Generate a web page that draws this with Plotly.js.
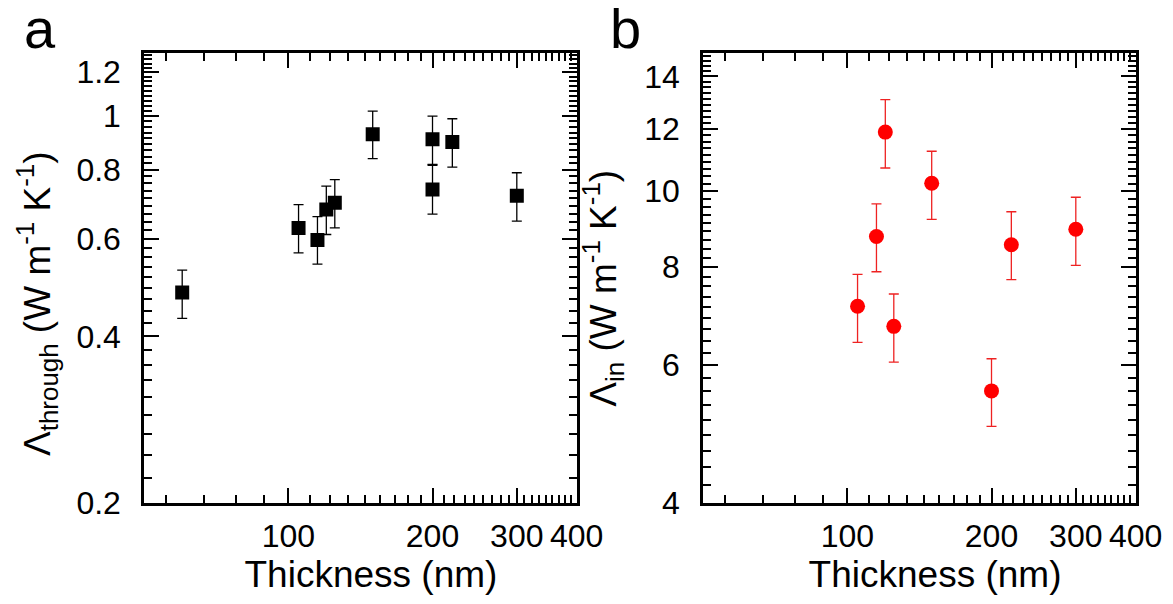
<!DOCTYPE html>
<html>
<head>
<meta charset="utf-8">
<script src="https://cdn.plot.ly/plotly-3.0.1.min.js"></script>
<style>html,body{margin:0;padding:0;background:#fff;}#chart{width:1173px;height:604px;}</style>
</head>
<body>
<div id="chart"></div>
<script>
// ---- data ----
var thicknessA = [60, 105, 115, 120, 125, 150, 200, 200, 220, 300];
var lambdaThrough = [0.480, 0.628, 0.597, 0.678, 0.697, 0.927, 0.908, 0.737, 0.898, 0.718];
var lambdaThroughErrPlus = [0.047, 0.064, 0.061, 0.069, 0.071, 0.094, 0.092, 0.078, 0.091, 0.072];
var lambdaThroughErrMinus = [0.049, 0.062, 0.057, 0.067, 0.069, 0.089, 0.090, 0.072, 0.089, 0.072];

var thicknessB = [105, 115, 120, 125, 150, 200, 220, 300];
var lambdaIn = [7.13, 8.75, 11.89, 6.72, 10.23, 5.56, 8.54, 8.94];
var lambdaInErrPlus = [0.70, 0.88, 1.19, 0.67, 1.01, 0.55, 0.87, 0.88];
var lambdaInErrMinus = [0.72, 0.86, 1.19, 0.67, 1.03, 0.55, 0.83, 0.90];

var xTickVals = [100, 200, 300, 400];
var xTickText = ['100', '200', '300', '400'];
var yTickValsA = [0.2, 0.4, 0.6, 0.8, 1, 1.2];
var yTickTextA = ['0.2', '0.4', '0.6', '0.8', '1', '1.2'];
var yTickValsB = [4, 6, 8, 10, 12, 14];
var yTickTextB = ['4', '6', '8', '10', '12', '14'];

// minor ticks: 9 subdivisions between labelled ticks
function minorTicks(start, step, count, lo, hi) {
  var out = [];
  for (var i = 0; i < count; i++) {
    var base = start + i * step;
    for (var k = 1; k <= 8; k++) {
      var v = base + k * step / 9;
      if (v > lo && v < hi) out.push(v);
    }
  }
  return out;
}
var xMinor = minorTicks(0, 100, 4, 50, 400);
var yMinorA = minorTicks(0.2, 0.2, 6, 0.2, 1.3);
var yMinorB = minorTicks(4, 2, 6, 4, 15);

var W = 1173, H = 604;
var FONT = 'Liberation Sans, Arial, Helvetica, sans-serif';
function pad(n) { var s = ''; for (var i = 0; i < n; i++) s += '&nbsp;'; return s; }

function xAxis(domain, anchor, lead) {
  return {
    type: 'log', domain: domain, anchor: anchor,
    range: [Math.log10(50), Math.log10(400) + 0.0008],
    tickmode: 'array', tickvals: xTickVals, ticktext: xTickText,
    ticks: 'inside', ticklen: 15, tickwidth: 2, tickcolor: '#000',
    showline: true, linewidth: 3, linecolor: '#000', mirror: 'allticks',
    showgrid: false, zeroline: false,
    ticklabelstandoff: 3,
    tickfont: {family: FONT, size: 32, color: '#000'},
    minor: {tickmode: 'array', tickvals: xMinor, ticks: 'inside', ticklen: 8, tickwidth: 2, tickcolor: '#000', showgrid: false},
    title: {text: pad(lead) + 'Thickness (nm)', font: {family: FONT, size: 37, color: '#000'}, standoff: 4}
  };
}
function yAxis(domain, anchor, range, vals, text, minor, title, standoff) {
  return {
    type: 'log', domain: domain, anchor: anchor,
    range: range,
    tickmode: 'array', tickvals: vals, ticktext: text,
    ticks: 'inside', ticklen: 15, tickwidth: 2, tickcolor: '#000',
    showline: true, linewidth: 3, linecolor: '#000', mirror: 'allticks',
    showgrid: false, zeroline: false,
    ticklabelstandoff: 14,
    tickfont: {family: FONT, size: 32, color: '#000'},
    minor: {tickmode: 'array', tickvals: minor, ticks: 'inside', ticklen: 8, tickwidth: 2, tickcolor: '#000', showgrid: false},
    title: {text: title, font: {family: FONT, size: 37, color: '#000'}, standoff: standoff}
  };
}

var yDom = [1 - 503 / H, 1 - 53 / H];

var traces = [
  {
    x: thicknessA, y: lambdaThrough, type: 'scatter', mode: 'markers',
    xaxis: 'x', yaxis: 'y',
    marker: {symbol: 'square', size: 14, color: '#000'},
    error_y: {type: 'data', symmetric: false, array: lambdaThroughErrPlus, arrayminus: lambdaThroughErrMinus,
              color: '#000', thickness: 1.3, width: 5},
    showlegend: false
  },
  {
    x: thicknessB, y: lambdaIn, type: 'scatter', mode: 'markers',
    xaxis: 'x2', yaxis: 'y2',
    marker: {symbol: 'circle', size: 15, color: '#ff0000'},
    error_y: {type: 'data', symmetric: false, array: lambdaInErrPlus, arrayminus: lambdaInErrMinus,
              color: '#ee2222', thickness: 1.3, width: 5},
    showlegend: false
  }
];

var layout = {
  width: W, height: H,
  margin: {l: 0, r: 0, t: 0, b: 0},
  paper_bgcolor: '#fff', plot_bgcolor: '#fff',
  font: {family: FONT, color: '#000'},
  xaxis: xAxis([144.3 / W, 577 / W], 'y', 2),
  yaxis: yAxis(yDom, 'x', [Math.log10(0.2), Math.log10(1.3)], yTickValsA, yTickTextA, yMinorA,
               'Λ<sub>through</sub> (W m<sup>-1</sup> K<sup>-1</sup>)' + pad(5), 15),
  xaxis2: xAxis([703.3 / W, 1136 / W], 'y2', 3),
  yaxis2: yAxis(yDom, 'x2', [Math.log10(4), Math.log10(15)], yTickValsB, yTickTextB, yMinorB,
                'Λ<sub>in</sub> (W m<sup>-1</sup> K<sup>-1</sup>)' + pad(2), 17),
  annotations: [
    {text: 'a', xref: 'paper', yref: 'paper', x: 22 / W, y: 1 - 28.5 / H, xanchor: 'left', yanchor: 'middle',
     showarrow: false, font: {family: FONT, size: 56, color: '#000'}},
    {text: 'b', xref: 'paper', yref: 'paper', x: 608 / W, y: 1 - 28.5 / H, xanchor: 'left', yanchor: 'middle',
     showarrow: false, font: {family: FONT, size: 56, color: '#000'}}
  ]
};

Plotly.newPlot('chart', traces, layout, {displayModeBar: false, staticPlot: true});
</script>
</body>
</html>
